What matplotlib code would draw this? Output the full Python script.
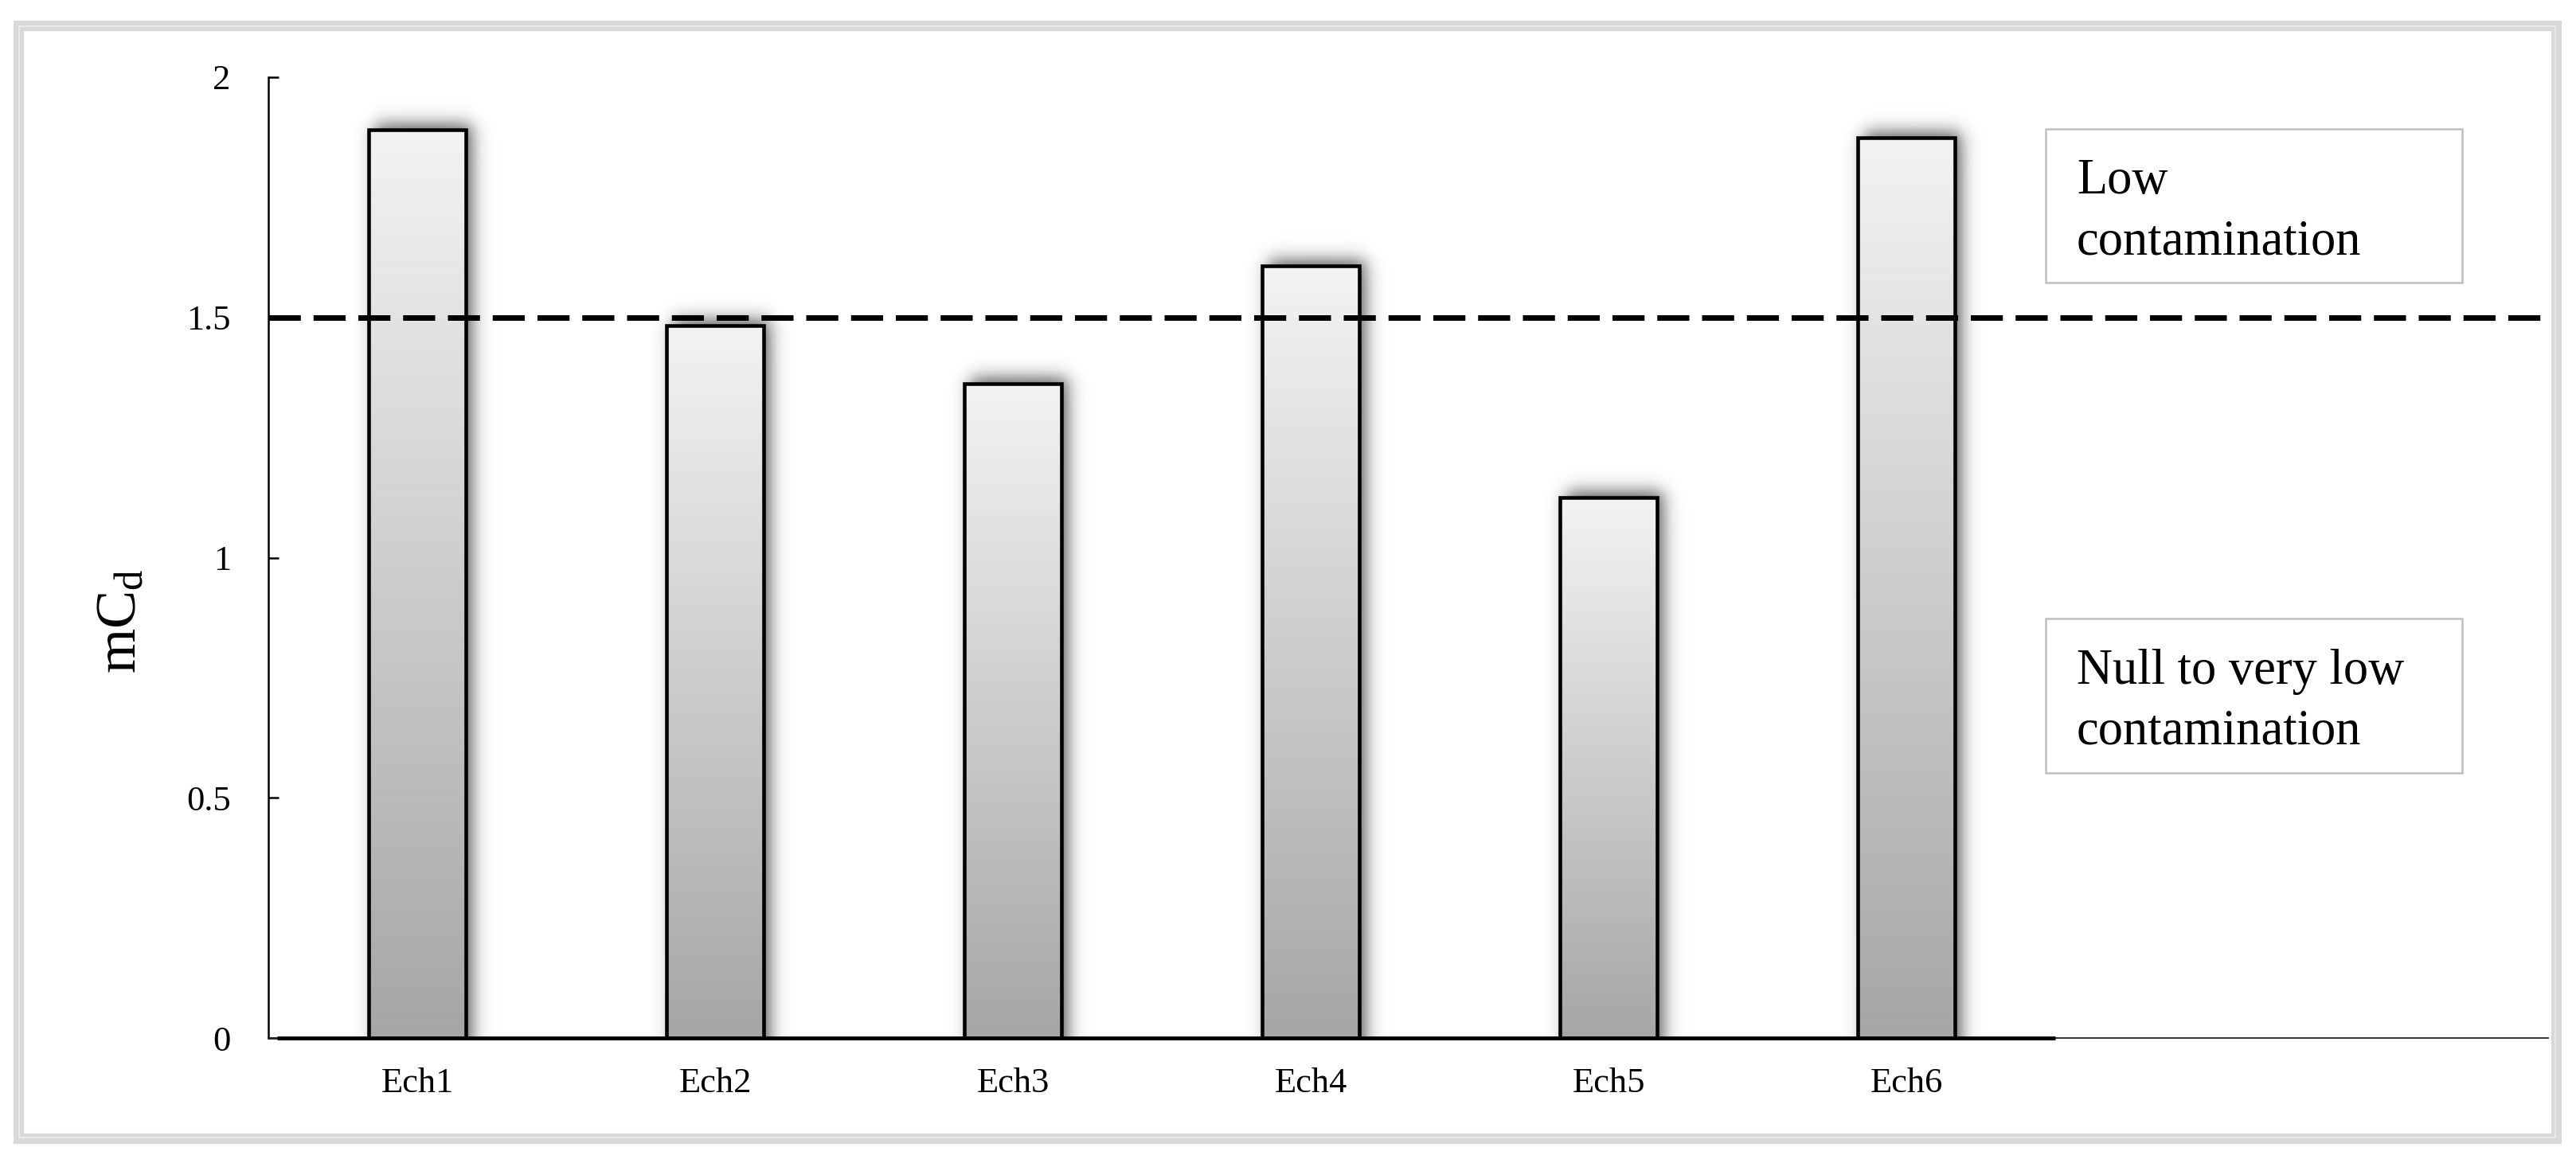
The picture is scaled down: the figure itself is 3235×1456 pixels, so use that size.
import numpy as np
import matplotlib.pyplot as plt
from matplotlib.colors import LinearSegmentedColormap
from matplotlib.patches import Rectangle

plt.rcParams['font.family'] = 'Liberation Serif'
plt.rcParams['mathtext.fontset'] = 'custom'
plt.rcParams['mathtext.rm'] = 'Liberation Serif'
plt.rcParams['mathtext.it'] = 'Liberation Serif:italic'

samples = ['Ech1', 'Ech2', 'Ech3', 'Ech4', 'Ech5', 'Ech6']
mcd = [1.89, 1.483, 1.362, 1.607, 1.125, 1.874]
threshold = 1.5
y_ticks = [0, 0.5, 1, 1.5, 2]
y_tick_labels = ['0', '0.5', '1', '1.5', '2']

W, H = 3235, 1456
fig = plt.figure(figsize=(W / 100, H / 100), dpi=100)
fig.patch.set_facecolor('white')

# axes box in pixels: left 337, right 3200, bottom 1304, top 97
ax = fig.add_axes([337 / W, 1 - 1304 / H, (3200 - 337) / W, (1304 - 97) / H])
xmax = -0.5 + (3200 - 337) / 374
ax.set_xlim(-0.5, xmax)
ax.set_ylim(0, 2)

px_x = (xmax + 0.5) / (3200 - 337)
px_y = 2 / (1304 - 97)

x = np.arange(len(samples))
bars = ax.bar(x, mcd, width=0.326, fill=False, edgecolor='black',
              linewidth=3.3, zorder=4)

grad_cmap = LinearSegmentedColormap.from_list('bargrad', ['#a6a6a6', '#f3f3f3'])
grad = np.linspace(0, 1, 256).reshape(-1, 1)


def sig(v):
    return 1 / (1 + np.exp(-v))


for p in bars:
    x0 = p.get_x()
    x1 = x0 + p.get_width()
    top = p.get_height()

    # soft shadow up and to the right
    ox, oy, k = 8 * px_x, 8 * px_y, 6.5
    xs = np.linspace(x0 - 20 * px_x, x1 + 55 * px_x, 160)
    ys = np.linspace(0, top + 55 * px_y, 500)
    X, Y = np.meshgrid(xs, ys)
    a = (sig((X - x0 - ox) / (k * px_x)) * sig((x1 + ox - X) / (k * px_x))
         * sig((top + oy - Y) / (k * px_y)))
    img = np.zeros(X.shape + (4,))
    img[..., 3] = 0.65 * a
    ax.imshow(img, extent=[xs[0], xs[-1], ys[0], ys[-1]], origin='lower',
              aspect='auto', zorder=1, interpolation='bilinear')

    # grey gradient fill
    ax.imshow(grad, cmap=grad_cmap, extent=[x0, x1, 0, top], origin='lower',
              aspect='auto', zorder=2, vmin=0, vmax=1)

ax.set_xlim(-0.5, xmax)
ax.set_ylim(0, 2)

ax.axhline(threshold, color='black', linewidth=5, dashes=(5.8, 2.3), zorder=5)

# thick baseline under the bars
ax.plot([-0.47, len(samples) - 0.5], [0, 0], color='black', linewidth=3.5,
        solid_capstyle='butt', clip_on=False, zorder=6)

for s in ['top', 'right']:
    ax.spines[s].set_visible(False)
ax.spines['left'].set_linewidth(1.8)
ax.spines['bottom'].set_linewidth(1.3)
ax.spines['bottom'].set_color('#222222')

ax.set_yticks(y_ticks)
ax.set_yticklabels(y_tick_labels)
ax.set_xticks(x)
ax.set_xticklabels(samples)
ax.tick_params(axis='y', direction='in', length=9.5, width=1.8, pad=34,
               labelsize=32)
ax.tick_params(axis='x', length=0, pad=27, labelsize=32)

ax.set_ylabel(r'mC$_{\mathrm{d}}$', fontsize=52)
ax.yaxis.set_label_coords(-0.053, 0.434)

# annotation boxes
box_x0 = (2569 - 337) / 2863
box_w = (3092 - 2569) / 2863
text_x = (2608 - 337) / 2863
ax.add_patch(Rectangle((box_x0, 0.7862), box_w, 0.9462 - 0.7862,
                       transform=ax.transAxes, fill=False, edgecolor='#bfbfbf',
                       linewidth=1.8, zorder=7))
ax.add_patch(Rectangle((box_x0, 0.2759), box_w, 0.4366 - 0.2759,
                       transform=ax.transAxes, fill=False, edgecolor='#bfbfbf',
                       linewidth=1.8, zorder=7))
ax.text(text_x, 0.879, 'Low', transform=ax.transAxes, fontsize=45,
        va='baseline', ha='left', zorder=8)
ax.text(text_x, 0.816, 'contamination', transform=ax.transAxes, fontsize=45,
        va='baseline', ha='left', zorder=8)
ax.text(text_x, 0.3687, 'Null to very low', transform=ax.transAxes, fontsize=45,
        va='baseline', ha='left', zorder=8)
ax.text(text_x, 0.3065, 'contamination', transform=ax.transAxes, fontsize=45,
        va='baseline', ha='left', zorder=8)

# grey frame around the whole picture
fig.patches.append(Rectangle((22.5 / W, 1 - 1429.5 / H), (3209.5 - 22.5) / W,
                             (1429.5 - 31.5) / H, transform=fig.transFigure,
                             fill=False, edgecolor='#d9d9d9', linewidth=9.5))
fig.patches.append(Rectangle((23.5 / W, 1 - 1428.5 / H), (3208.5 - 23.5) / W,
                             (1428.5 - 32.5) / H, transform=fig.transFigure,
                             fill=False, edgecolor='#ededed', linewidth=1.2))

fig.savefig('out.png', dpi=100)
